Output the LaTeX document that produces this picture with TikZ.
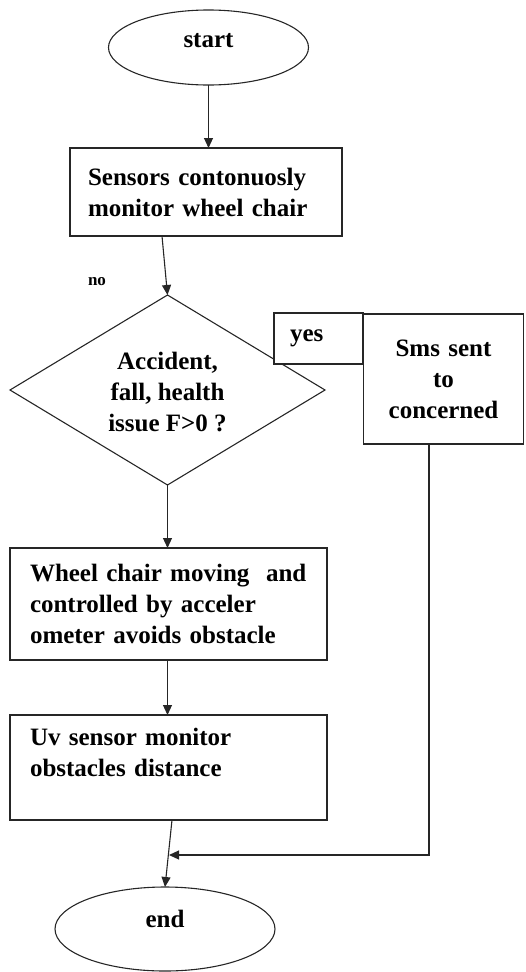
\documentclass[tikz,border=0pt]{standalone}
\usepackage{fontspec}
\setmainfont{Liberation Serif}
\usetikzlibrary{shapes.geometric,arrows.meta}
\tikzset{
  base/.style={draw=black!85, line width=1.1pt, inner sep=0pt, outer sep=0pt},
  stepbox/.style={base, rectangle, fill=white, align=left},
  term/.style={base, ellipse},
  decision/.style={base, diamond},
  txt/.style={inner sep=0pt, align=center, font=\bfseries\fontsize{25}{31}\selectfont},
  arr/.style={draw=black!85, line width=1.1pt, -{Triangle[length=10pt,width=9pt]}},
  plain/.style={draw=black!85, line width=1.1pt},
}
\begin{document}
\begin{tikzpicture}[x=1pt,y=-1pt, font=\bfseries\fontsize{25}{31}\selectfont]
\useasboundingbox (0,0) rectangle (525,972);
% terminals
\node[term, minimum width=200pt, minimum height=75pt] (start) at (208.5,47.5) {};
\node[txt] (starttxt) at ([yshift=7pt]start.center) {start};
\node[term, minimum width=220pt, minimum height=84pt] (end) at (165,929) {};
\node[txt] (endtxt) at ([yshift=10pt]end.center) {end};
% boxes
\node[stepbox, minimum width=272pt, minimum height=88pt, inner xsep=18pt, text width=236pt] (box1) at (206,192)
  {Sensors contonuosly\\monitor wheel chair};
\node[stepbox, minimum width=317pt, minimum height=112pt, inner xsep=20pt, text width=277pt] (box3) at (168.5,604)
  {Wheel chair moving\ \ and\\controlled by acceler\\ometer avoids obstacle};
\node[stepbox, minimum width=317pt, minimum height=105pt, inner xsep=20pt, text width=277pt] (box4) at (168.5,767.5)
  {Uv sensor monitor\\obstacles distance\\\mbox{}};
% decision
\node[decision, minimum width=315pt, minimum height=190pt] (dec) at (167.5,390) {};
\node[txt] (dectxt) at ([yshift=-2pt]dec.center) {Accident,\\fall, health\\issue F>0 ?};
% yes / sms
\node[stepbox, minimum width=89pt, minimum height=51pt, inner xsep=16pt, text width=57pt] (yes) at (318.5,338.5) {yes};
\node[stepbox, align=center, minimum width=160pt, minimum height=130pt, text width=160pt] (sms) at (443.5,379)
  {Sms sent\\to\\concerned};
% no label
\node[inner sep=0pt, font=\bfseries\fontsize{17}{20}\selectfont] (nolbl) at (97,282) {no};
% connectors
\coordinate (merge) at (169,855);
\draw[arr] (start.south) -- (start.south |- box1.north);
\draw[arr] ([xshift=-44pt]box1.south) -- (dec.north);
\draw[arr] (dec.south) -- (dec.south |- box3.north);
\draw[arr] (dec.south |- box3.south) -- (dec.south |- box4.north);
\draw[arr] ([xshift=3.5pt]box4.south) -- (end.north);
\draw[arr] ([xshift=-14.5pt]sms.south) |- (merge);
\end{tikzpicture}
\end{document}
